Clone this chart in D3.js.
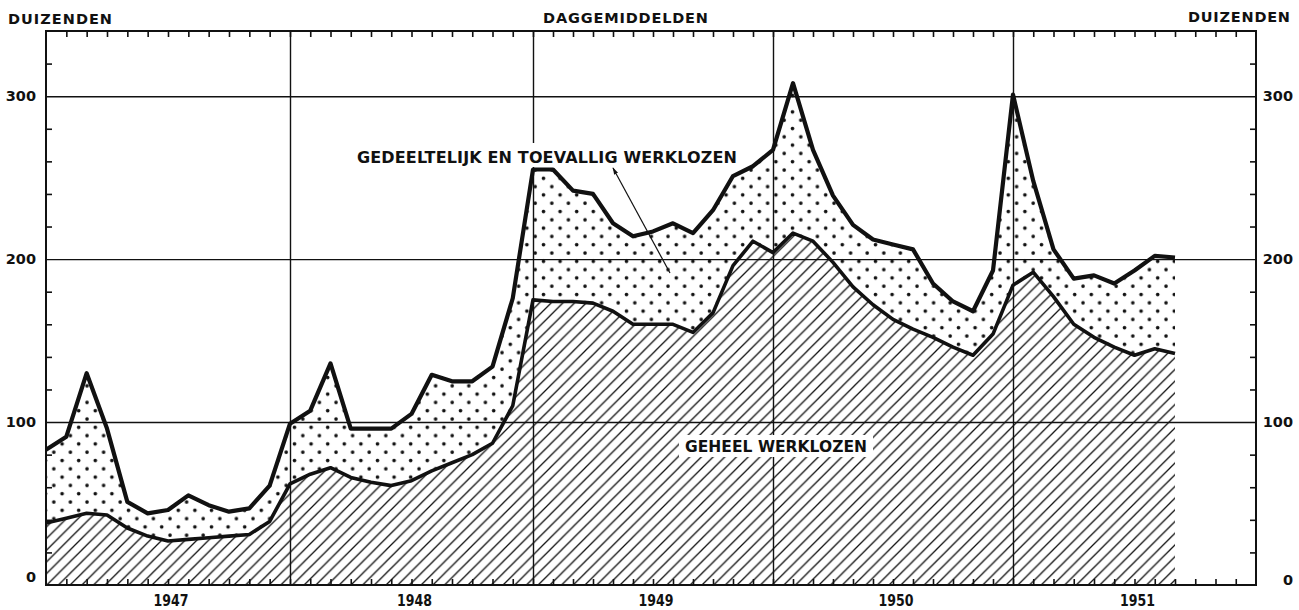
<!DOCTYPE html>
<html>
<head>
<meta charset="utf-8">
<script src="https://cdn.jsdelivr.net/npm/d3@7"></script>
<style>
body { margin: 0; background: #fff; }
text { font-family: "DejaVu Sans", sans-serif; font-weight: bold; fill: #111; }
</style>
</head>
<body>
<script>
// werklozen in duizenden, daggemiddelden per maand (jan 1947 - sep 1951)
var years = [1947, 1948, 1949, 1950, 1951];
var yLabels = [0, 100, 200, 300];

// gedeeltelijk + toevallig + geheel (bovenste lijn)
var totaal = [
  83, 91, 130, 96, 51, 44, 46, 55, 49, 45, 47, 61,
  99, 107, 136, 96, 96, 96, 105, 129, 125, 125, 134, 176,
  255, 255, 242, 240, 222, 214, 217, 222, 216, 230, 251, 257,
  267, 308, 267, 239, 221, 212, 209, 206, 185, 174, 168, 193,
  301, 248, 206, 188, 190, 185, 193, 202, 201
];

// geheel werklozen (onderste lijn)
var geheel = [
  38, 41, 44, 43, 35, 30, 27, 28, 29, 30, 31, 39,
  62, 68, 72, 66, 63, 61, 64, 70, 75, 80, 87, 110,
  175, 174, 174, 173, 168, 160, 160, 160, 155, 167, 196, 211,
  204, 216, 211, 198, 183, 172, 163, 157, 152, 146, 141, 154,
  184, 192, 177, 160, 152, 146, 141, 145, 142
];

var W = 1299, H = 610;
// plot frame (window.top is read-only, so no bare "top" here)
var frame = {left: 46, right: 1256, top: 31, bottom: 585};

var svg = d3.select("body").append("svg")
    .attr("width", W)
    .attr("height", H);

// months since jan 1947; the printed year widths are not quite equal
var x = d3.scaleLinear()
    .domain([0, 12, 24, 36, 48, 60])
    .range([frame.left, 290, 533, 773, 1013, frame.right]);
var y = d3.scaleLinear().domain([0, 340]).range([frame.bottom, frame.top]);

var data = totaal.map(function(d, i) {
    return {i: i, tot: d, geh: geheel[i]};
});

// patterns: dots for partly, hatching for fully unemployed
var defs = svg.append("defs");
var dots = defs.append("pattern")
    .attr("id", "dots")
    .attr("patternUnits", "userSpaceOnUse")
    .attr("width", 16.6)
    .attr("height", 16.6);
dots.append("circle").attr("cx", 4).attr("cy", 4).attr("r", 1.8).attr("fill", "#111");
dots.append("circle").attr("cx", 12.3).attr("cy", 12.3).attr("r", 1.8).attr("fill", "#111");

var hatch = defs.append("pattern")
    .attr("id", "hatch")
    .attr("patternUnits", "userSpaceOnUse")
    .attr("width", 11.7)
    .attr("height", 11.7);
hatch.append("path")
    .attr("d", "M0,11.7 L11.7,0 M-2,2 L2,-2 M9.7,13.7 L13.7,9.7")
    .attr("stroke", "#111")
    .attr("stroke-width", 1.3);

var arrow = defs.append("marker")
    .attr("id", "arrow")
    .attr("viewBox", "0 0 10 10")
    .attr("refX", 9).attr("refY", 5)
    .attr("markerWidth", 6).attr("markerHeight", 6)
    .attr("orient", "auto");
arrow.append("path").attr("d", "M0,2 L10,5 L0,8 Z").attr("fill", "#111");

// areas
svg.append("path")
    .datum(data)
    .attr("fill", "url(#dots)")
    .attr("d", d3.area()
        .x(function(d) { return x(d.i); })
        .y0(function(d) { return y(d.geh); })
        .y1(function(d) { return y(d.tot); }));

svg.append("path")
    .datum(data)
    .attr("fill", "url(#hatch)")
    .attr("d", d3.area()
        .x(function(d) { return x(d.i); })
        .y0(y(0))
        .y1(function(d) { return y(d.geh); }));

// grid
svg.append("g")
    .attr("transform", "translate(" + frame.left + ",0)")
    .call(d3.axisLeft(y).tickValues([100, 200, 300]).tickSize(-(frame.right - frame.left)).tickFormat(""))
    .call(function(g) { g.select(".domain").remove(); })
    .selectAll("line").attr("stroke", "#111").attr("stroke-width", 1.4);

svg.append("g")
    .attr("transform", "translate(0," + frame.top + ")")
    .call(d3.axisTop(x).tickValues([12, 24, 36, 48]).tickSize(-(frame.bottom - frame.top)).tickFormat(""))
    .call(function(g) { g.select(".domain").remove(); })
    .selectAll("line").attr("stroke", "#111").attr("stroke-width", 1.4);

// lines
svg.append("path")
    .datum(data)
    .attr("fill", "none")
    .attr("stroke", "#111")
    .attr("stroke-width", 3.6)
    .attr("stroke-linejoin", "round")
    .attr("d", d3.line()
        .x(function(d) { return x(d.i); })
        .y(function(d) { return y(d.geh); }));

svg.append("path")
    .datum(data)
    .attr("fill", "none")
    .attr("stroke", "#111")
    .attr("stroke-width", 4.2)
    .attr("stroke-linejoin", "round")
    .attr("d", d3.line()
        .x(function(d) { return x(d.i); })
        .y(function(d) { return y(d.tot); }));

// month and minor value ticks, pointing inward
var months = d3.range(1, 60);
var minor = d3.range(20, 340, 20).filter(function(v) { return v % 100 != 0; });

function styleTicks(g) {
    g.select(".domain").remove();
    g.selectAll("line").attr("stroke", "#111").attr("stroke-width", 1.6);
}

svg.append("g")
    .attr("transform", "translate(0," + frame.top + ")")
    .call(d3.axisTop(x).tickValues(months).tickSize(-6).tickFormat(""))
    .call(styleTicks);
svg.append("g")
    .attr("transform", "translate(0," + frame.bottom + ")")
    .call(d3.axisBottom(x).tickValues(months).tickSize(-6).tickFormat(""))
    .call(styleTicks);
svg.append("g")
    .attr("transform", "translate(" + frame.left + ",0)")
    .call(d3.axisLeft(y).tickValues(minor).tickSize(-6).tickFormat(""))
    .call(styleTicks);
svg.append("g")
    .attr("transform", "translate(" + frame.right + ",0)")
    .call(d3.axisRight(y).tickValues(minor).tickSize(-6).tickFormat(""))
    .call(styleTicks);

// frame
svg.append("rect")
    .attr("x", frame.left).attr("y", frame.top)
    .attr("width", frame.right - frame.left).attr("height", frame.bottom - frame.top)
    .attr("fill", "none")
    .attr("stroke", "#111")
    .attr("stroke-width", 2);

// value labels both sides
svg.selectAll(".ylab-l")
    .data(yLabels)
    .enter().append("text")
    .attr("class", "ylab-l")
    .attr("x", 36)
    .attr("y", function(d) { return d == 0 ? y(d) - 3 : y(d) + 5; })
    .attr("text-anchor", "end")
    .attr("font-size", "14.5px")
    .text(function(d) { return d; });

svg.selectAll(".ylab-r")
    .data(yLabels)
    .enter().append("text")
    .attr("class", "ylab-r")
    .attr("x", 1293)
    .attr("y", function(d) { return d == 0 ? y(d) : y(d) + 5; })
    .attr("text-anchor", "end")
    .attr("font-size", "14.5px")
    .text(function(d) { return d; });

// year labels under the middle of each year
svg.selectAll(".year")
    .data(years)
    .enter().append("text")
    .attr("class", "year")
    .attr("x", function(d, i) { return x(i * 12 + 6) + 3 - 17.5; })
    .attr("y", 606)
    .attr("font-size", "16.5px")
    .attr("textLength", 35)
    .attr("lengthAdjust", "spacingAndGlyphs")
    .text(function(d) { return d; });

// headings
svg.append("text").attr("x", 8).attr("y", 24).attr("font-size", "14.5px")
    .attr("textLength", 104).text("DUIZENDEN");
svg.append("text").attr("x", 1188).attr("y", 22).attr("font-size", "14.5px")
    .attr("textLength", 102).text("DUIZENDEN");
svg.append("text").attr("x", 543).attr("y", 23).attr("font-size", "14.5px")
    .attr("textLength", 165).text("DAGGEMIDDELDEN");

// series labels with white knock-out boxes
svg.append("rect").attr("x", 350).attr("y", 143).attr("width", 395).attr("height", 24).attr("fill", "#fff");
svg.append("text").attr("x", 357).attr("y", 163).attr("font-size", "16px")
    .attr("textLength", 380).text("GEDEELTELIJK EN TOEVALLIG WERKLOZEN");

svg.append("line")
    .attr("x1", 670).attr("y1", 273)
    .attr("x2", 613).attr("y2", 168)
    .attr("stroke", "#111")
    .attr("stroke-width", 1.2)
    .attr("marker-end", "url(#arrow)");

svg.append("rect").attr("x", 679).attr("y", 435).attr("width", 194).attr("height", 22).attr("fill", "#fff");
svg.append("text").attr("x", 685).attr("y", 452).attr("font-size", "15.5px")
    .attr("textLength", 182).text("GEHEEL WERKLOZEN");
</script>
</body>
</html>
